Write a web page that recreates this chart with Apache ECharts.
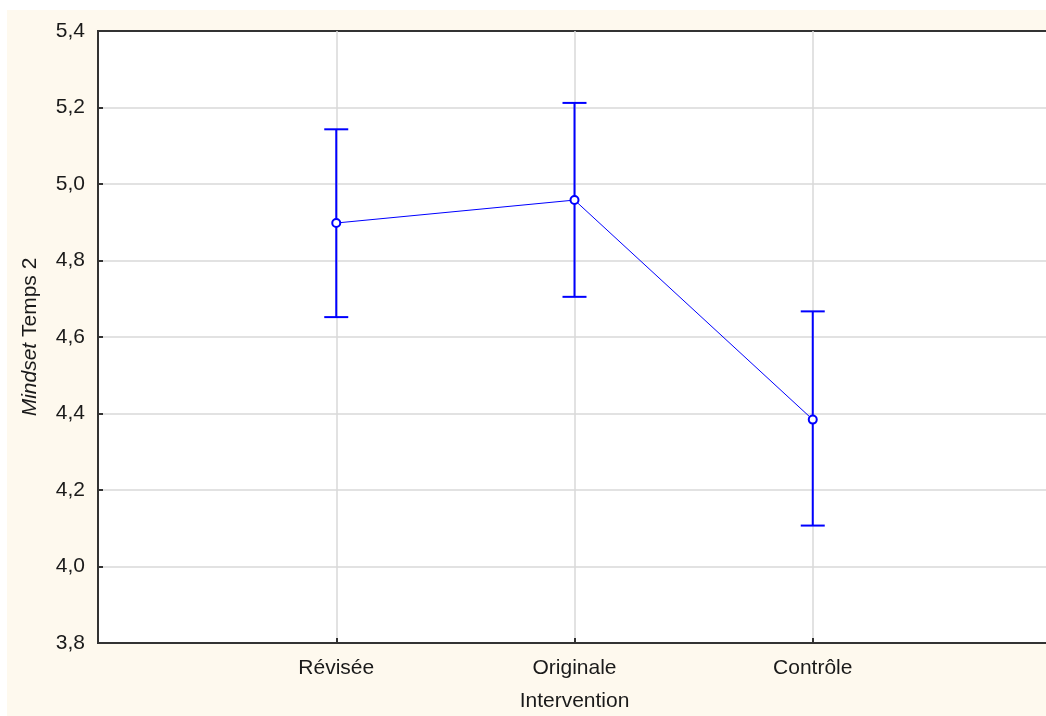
<!DOCTYPE html>
<html>
<head>
<meta charset="utf-8">
<script src="https://cdn.jsdelivr.net/npm/echarts@6/dist/echarts.min.js"></script>
<style>
  html, body { margin: 0; padding: 0; background: #fef9ee; overflow: hidden; width: 1046px; height: 716px; }
  #topstrip { position: absolute; left: 0; top: 0; width: 1046px; height: 10px; background: #ffffff; }
  #leftstrip { position: absolute; left: 0; top: 0; width: 7px; height: 716px; background: #ffffff; }
  #chart { position: absolute; left: 7px; top: 10px; width: 1047px; height: 712px; }
</style>
</head>
<body>
<div id="topstrip"></div>
<div id="leftstrip"></div>
<div id="chart"></div>
<script>
const categories = ['Révisée', 'Originale', 'Contrôle'];
const means = [4.898, 4.958, 4.384];
const upper = [5.143, 5.212, 4.667];
const lower = [4.652, 4.705, 4.107];

const FONT = '"Liberation Sans", Arial, sans-serif';
const BLUE = '#0000ff';

const chart = echarts.init(document.getElementById('chart'));

const lineData = means.map((m, i) => [i + 1, m]);
const errData = means.map((m, i) => [i + 1, lower[i], upper[i]]);

chart.setOption({
  backgroundColor: '#fef9ee',
  animation: false,
  grid: {
    left: 91, top: 21, bottom: 79, right: 0,
    show: true, backgroundColor: '#ffffff', borderColor: '#333333', borderWidth: 2
  },
  xAxis: {
    type: 'value', min: 0, max: 4, interval: 1,
    name: 'Intervention', nameLocation: 'middle', nameGap: 48,
    nameTextStyle: { fontFamily: FONT, fontSize: 21, color: '#1a1a1a' },
    axisLine: { show: true, lineStyle: { color: '#333333', width: 2 } },
    axisTick: { show: true, inside: true, length: 5, lineStyle: { color: '#333333', width: 2 } },
    axisLabel: {
      fontFamily: FONT, fontSize: 21, color: '#1a1a1a', margin: 15,
      formatter: v => (v >= 1 && v <= categories.length) ? categories[v - 1] : ''
    },
    splitLine: { show: true, showMinLine: false, showMaxLine: false, lineStyle: { color: '#d9d9d9', width: 1.5 } }
  },
  yAxis: {
    type: 'value', min: 3.8, max: 5.4, interval: 0.2,
    name: '{i|Mindset} Temps 2', nameLocation: 'middle', nameGap: 57,
    nameTextStyle: {
      fontFamily: FONT, fontSize: 21, color: '#1a1a1a',
      rich: { i: { fontFamily: FONT, fontSize: 21, fontStyle: 'italic', color: '#1a1a1a' } }
    },
    axisLine: { show: true, lineStyle: { color: '#333333', width: 2 } },
    axisTick: { show: true, inside: true, length: 5, lineStyle: { color: '#333333', width: 2 } },
    axisLabel: {
      fontFamily: FONT, fontSize: 21, color: '#1a1a1a', margin: 13, padding: [6, 0, 0, 0],
      formatter: v => v.toFixed(1).replace('.', ',')
    },
    splitLine: { show: true, showMinLine: false, showMaxLine: false, lineStyle: { color: '#d9d9d9', width: 1.5 } }
  },
  series: [
    {
      type: 'custom',
      data: errData,
      z: 3,
      renderItem: function (params, api) {
        const x = api.value(0);
        const lo = api.coord([x, api.value(1)]);
        const hi = api.coord([x, api.value(2)]);
        const hw = 12;
        const style = { stroke: BLUE, lineWidth: 2 };
        return {
          type: 'group',
          children: [
            { type: 'line', shape: { x1: lo[0], y1: lo[1], x2: hi[0], y2: hi[1] }, style },
            { type: 'line', shape: { x1: hi[0] - hw, y1: hi[1], x2: hi[0] + hw, y2: hi[1] }, style },
            { type: 'line', shape: { x1: lo[0] - hw, y1: lo[1], x2: lo[0] + hw, y2: lo[1] }, style }
          ]
        };
      }
    },
    {
      type: 'line',
      data: lineData,
      z: 4,
      symbol: 'emptyCircle',
      symbolSize: 8,
      lineStyle: { color: BLUE, width: 1 },
      itemStyle: { color: BLUE, borderColor: BLUE, borderWidth: 1.5 }
    }
  ]
});
</script>
</body>
</html>
